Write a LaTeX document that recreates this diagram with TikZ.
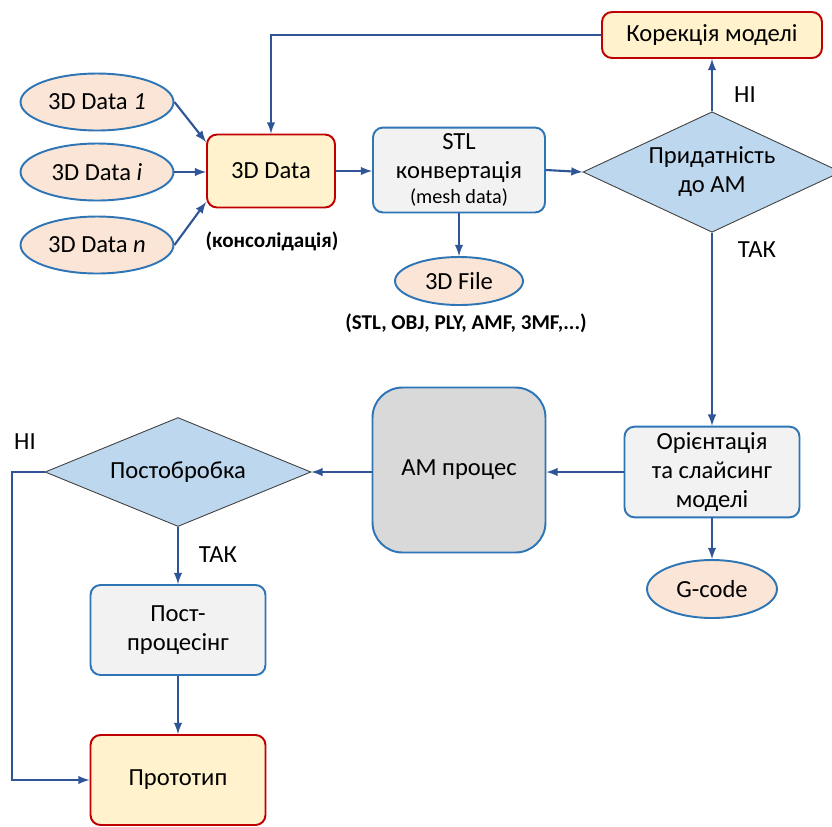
\documentclass[tikz,border=0pt]{standalone}
\usepackage{fontspec}
\setmainfont{Carlito}
\usetikzlibrary{shapes.geometric}
\definecolor{linkblue}{HTML}{2F5597}
\definecolor{edgeblue}{HTML}{2E75B6}
\definecolor{edgered}{HTML}{C00000}
\definecolor{peach}{HTML}{FBE5D6}
\definecolor{cream}{HTML}{FFF2CC}
\definecolor{paleblue}{HTML}{BDD7EE}
\definecolor{lightgray}{HTML}{F2F2F2}
\definecolor{midgray}{HTML}{D9D9D9}
\tikzset{
  datael/.style={ellipse, draw=edgeblue, fill=peach, line width=1.1pt, inner sep=0pt},
  keybox/.style={rectangle, rounded corners=0.2cm, draw=edgered, fill=cream, line width=1.1pt, align=center},
  stepbox/.style={rectangle, rounded corners=0.2cm, draw=edgeblue, fill=lightgray, line width=1.1pt, align=center},
  choice/.style={diamond, draw=black!75, fill=paleblue, line width=0.5pt, inner sep=-8pt, align=center},
  link/.style={draw=linkblue, line width=1.2pt, ->, >=latex},
  note/.style={font=\fontsize{12}{14}\selectfont\bfseries}
}
\begin{document}
\begin{tikzpicture}[x=0.02cm, y=-0.02cm, font=\fontsize{14}{16.5}\selectfont]
    \useasboundingbox (0,0) rectangle (832,826);
    % input data
    \node[datael, minimum width=3.06cm, minimum height=1.14cm] (d1) at (97,102) {3D Data \textit{1}};
    \node[datael, minimum width=3.06cm, minimum height=1.14cm] (di) at (97,172) {3D Data \textit{i}};
    \node[datael, minimum width=3.06cm, minimum height=1.14cm] (dn) at (97,245) {3D Data \textit{n}};
    \node[keybox, minimum width=2.56cm, minimum height=1.46cm] (data) at (271,171) {3D Data};
    \node[note] (cons) at (272,241) {(консолідація)};
    % conversion
    \node[stepbox, minimum width=3.44cm, minimum height=1.66cm] (stl) at (459,170) {STL\\конвертація\\[-2pt]{\fontsize{11.5}{13}\selectfont(mesh data)}};
    \node[datael, minimum width=2.56cm, minimum height=0.96cm] (file) at (459,281) {3D File};
    \node[note] (formats) at (466,323) {(STL, OBJ, PLY, AMF, 3MF,...)};
    \node[choice, minimum width=5.16cm, minimum height=2.2cm] (fit) at (712,172) {Придатність\\до АМ};
    \node[keybox, minimum width=4.4cm, minimum height=0.92cm] (fix) at (712,35) {Корекція моделі};
    \node (no1) at (745,95) {НІ};
    \node (yes1) at (757,250) {ТАК};
    % printing
    \node[stepbox, minimum width=3.5cm, minimum height=1.8cm] (orient) at (712,472) {Орієнтація\\та слайсинг\\моделі};
    \node[datael, minimum width=2.6cm, minimum height=1.16cm] (gcode) at (712,589) {G-code};
    \node[stepbox, fill=midgray, rounded corners=0.6cm, minimum width=3.46cm, minimum height=3.3cm] (am) at (459,470) {АМ процес};
    \node[choice, minimum width=5.32cm, minimum height=2.18cm] (post) at (178,472) {Постобробка};
    \node (no2) at (25,442) {НІ};
    \node (yes2) at (218,555) {ТАК};
    \node[stepbox, minimum width=3.5cm, minimum height=1.8cm] (postproc) at (178,630) {Пост-\\процесінг};
    \node[keybox, minimum width=3.5cm, minimum height=1.8cm] (proto) at (178,780) {Прототип};
    % connectors
    \draw[link] (d1.east) -- ([yshift=0.58cm]data.west);
    \draw[link] (di.east) -- (di.east -| data.west);
    \draw[link] (dn.east) -- ([yshift=-0.62cm]data.west);
    \draw[link] (data.east) -- (data.east -| stl.west);
    \draw[link] (stl) -- (file);
    \draw[link] (stl.east) -- (fit.west);
    \draw[link] (fit.north) -- (fix.south);
    \draw[link] (fix.west) -| (data.north);
    \draw[link] (fit.south) -- (orient.north);
    \draw[link] (orient) -- (gcode);
    \draw[link] (orient.west) -- (orient.west -| am.east);
    \draw[link] (am.west |- post.east) -- (post.east);
    \draw[link] (post) -- (postproc);
    \draw[link] (postproc) -- (proto);
    \draw[link] (post.west) -- ++(-33,0) |- (proto.west);
\end{tikzpicture}
\end{document}
